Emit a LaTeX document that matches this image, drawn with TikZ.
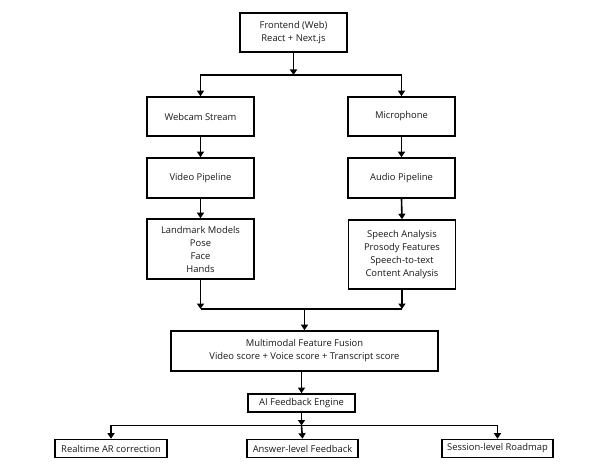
\documentclass[tikz,border=0pt]{standalone}
\usepackage{fontspec}
\setmainfont{Open Sans}
\usetikzlibrary{arrows.meta}
\tikzset{
  box/.style={draw=black, line width=1.6pt, fill=white, inner sep=0pt, align=center,
    font=\fontsize{9.4}{13}\selectfont, text=black!90},
  conn/.style={line width=1.6pt, draw=black},
  arr/.style={conn, -{Triangle[width=7pt,length=5.5pt]}},
}
\begin{document}
\begin{tikzpicture}[x=1pt,y=-1pt]
\useasboundingbox[fill=white] (0,0) rectangle (602,465);
% nodes
\node[box, minimum width=107pt, minimum height=39pt] (fe) at (293.5,32.5) {Frontend (Web)\\React + Next.js};
\node[box, minimum width=107pt, minimum height=39pt] (web) at (200.5,116.5) {Webcam Stream};
\node[box, minimum width=107pt, minimum height=39pt] (mic) at (401.5,116.5) {Microphone};
\node[box, minimum width=107pt, minimum height=40pt] (vid) at (200.5,178) {Video Pipeline};
\node[box, minimum width=107pt, minimum height=40pt] (aud) at (401.5,178) {Audio Pipeline};
\node[box, minimum width=107pt, minimum height=60pt] (lm) at (200.5,249) {Landmark Models\\Pose\\Face\\Hands};
\node[box, minimum width=107pt, minimum height=69pt] (sp) at (402,254.5) {Speech Analysis\\Prosody Features\\Speech-to-text\\Content Analysis};
\node[box, minimum width=267pt, minimum height=40pt] (fu) at (304.5,351) {Multimodal Feature Fusion\\Video score + Voice score + Transcript score};
\node[box, minimum width=107pt, minimum height=18pt] (ai) at (301.5,403) {AI Feedback Engine};
\node[box, minimum width=112pt, minimum height=18pt] (rt) at (111,448.5) {Realtime AR correction};
\node[box, minimum width=111pt, minimum height=18pt] (ans) at (302.5,448.5) {Answer-level Feedback};
\node[box, minimum width=111pt, minimum height=18pt] (ss) at (497.5,448.5) {Session-level Roadmap};
% junction points
\coordinate (s1) at (293.5,75);
\coordinate (mL) at (200.5,309);
\coordinate (mR) at (402,309);
\coordinate (mC) at (304.5,309);
\coordinate (s3) at (301.5,425.5);
% connectors
\draw[arr] (fe.south) -- (s1);
\draw[arr] (s1) -| (web.north);
\draw[arr] (s1) -| (mic.north);
\draw[arr] (web.south) -- (vid.north);
\draw[arr] (mic.south) -- (aud.north);
\draw[arr] (vid.south) -- (lm.north);
\draw[arr] (aud.south) -- (sp.north);
\draw[arr] (lm.south) -- (mL);
\draw[arr] (sp.south) -- (mR);
\draw[conn] (mL) -- (mR);
\draw[arr] (mC) -- (fu.north);
\draw[arr] (fu.south -| ai.north) -- (ai.north);
\draw[arr] (ai.south) -- (s3);
\draw[arr] (s3) -| (rt.north);
\draw[arr] (s3) -| (ss.north);
\draw[arr] (s3) -- (ans.north);
\end{tikzpicture}
\end{document}
